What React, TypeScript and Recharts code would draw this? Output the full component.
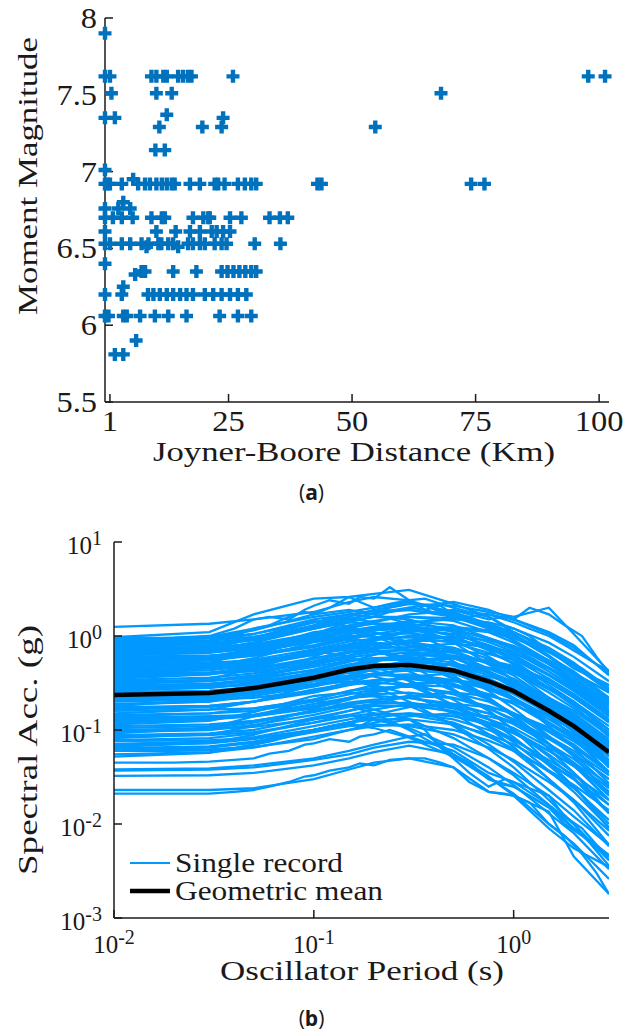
import { ScatterChart, Scatter, LineChart, Line, XAxis, YAxis } from 'recharts';

const SERIF = '"Liberation Serif", "Times New Roman", serif';
const INK = '#1a1a1a';
const MARKER_BLUE = '#0072bd';
const RECORD_BLUE = '#0099ff';

// (a) magnitude vs Joyner-Boore distance, read row by row
const magnitudeRows = [7.9, 7.62, 7.51, 7.37, 7.35, 7.29, 7.14, 7.01, 6.95, 6.92, 6.8, 6.76, 6.7, 6.61, 6.53, 6.51, 6.4, 6.35, 6.33, 6.25, 6.2, 6.06, 5.9, 5.81];
const distanceRows = [
  [0],
  [0, 1, 9.4, 10.4, 11.8, 12.5, 14.8, 15.8, 16.8, 17.5, 25.9, 97.8, 101.2],
  [1.3, 10.4, 13.5, 68],
  [12.5],
  [0, 2, 23.9],
  [11, 19.7, 23.6, 54.7],
  [10.2, 12.1],
  [0],
  [5.7],
  [0, 0.6, 1, 3.4, 6.7, 8.1, 9.1, 10.4, 11.5, 12.5, 13.5, 14.1, 17.2, 19.2, 22.2, 22.9, 24.2, 26.9, 28.3, 29.6, 30.6, 43, 43.8, 74.1, 76.8],
  [3.7],
  [0, 2.7, 5.1],
  [0, 1.6, 3.4, 5.6, 9.4, 11.5, 12.1, 17.8, 19.9, 20.9, 21.2, 25.3, 27.6, 33.3, 35.4, 37],
  [0, 10.4, 14.3, 17.2, 19.2, 21.6, 22.6, 23.9, 25.3],
  [0, 1, 3.4, 5.1, 7.4, 8.8, 10.8, 11.4, 12.8, 13.8, 16.8, 17.8, 19.2, 20.2, 22.2, 23.6, 24.6, 30.3, 35.5],
  [8.4, 14.8],
  [0],
  [7.4, 8.1, 13.8, 18.5, 23.6, 24.8, 26, 27.2, 28.4, 29.6, 30.6],
  [6.1],
  [3.7],
  [0, 3.4, 8.7, 9.8, 11.1, 12.5, 13.8, 15.2, 16.5, 17.8, 20.2, 21.9, 23.6, 25.3, 26.9, 28.6],
  [0, 0.7, 3.7, 4.4, 7.1, 10.1, 12.8, 16.5, 23.2, 26.9, 29.6],
  [6.3],
  [2, 3.7],
];
const distanceTicks = [1, 25, 50, 75, 100];
const magnitudeTicks = [5.5, 6, 6.5, 7, 7.5, 8];

// (b) response spectra, 5% damping
const periods = [0.01, 0.03, 0.05, 0.1, 0.15, 0.2, 0.3, 0.5, 0.75, 1, 1.5, 2, 3];
const records = [
  [1.25, 1.35, 1.5, 1.8, 2.3, 2.6, 2.4, 1.7, 1.3, 0.9, 0.55, 0.4, 0.25],
  [0.97, 1.1, 1.7, 2.5, 2.6, 2.8, 3.1, 2.2, 1.6, 1.1, 0.7, 0.45, 0.3],
  [0.92, 0.98, 1.2, 1.6, 1.8, 2.0, 2.3, 1.8, 1.35, 1.05, 0.62, 0.4, 0.2],
  [0.9, 0.95, 1.05, 1.4, 1.7, 1.85, 1.9, 1.65, 1.25, 1.0, 0.6, 0.42, 0.22],
  [0.88, 0.9, 0.98, 1.25, 1.5, 1.75, 2.0, 2.3, 1.9, 1.5, 1.1, 0.8, 0.38],
  [0.85, 0.95, 1.15, 1.7, 1.9, 1.7, 1.35, 0.85, 0.5, 0.34, 0.17, 0.1, 0.042],
  [0.82, 0.88, 1.05, 1.5, 1.7, 1.6, 1.5, 1.1, 0.75, 0.55, 0.3, 0.2, 0.09],
  [0.8, 0.85, 0.95, 1.3, 1.6, 1.9, 2.2, 2.1, 1.8, 1.6, 2.0, 1.05, 0.42],
  [0.78, 0.82, 0.92, 1.2, 1.45, 1.6, 1.6, 1.45, 1.1, 0.85, 0.52, 0.37, 0.19],
  [0.76, 0.8, 0.9, 1.2, 1.5, 1.75, 1.9, 1.6, 1.2, 0.9, 0.5, 0.33, 0.15],
  [0.74, 0.76, 0.8, 0.96, 1.2, 1.4, 1.7, 1.85, 1.7, 1.5, 1.05, 0.75, 0.4],
  [0.72, 0.75, 0.82, 1.05, 1.3, 1.45, 1.6, 1.55, 1.35, 1.1, 0.75, 0.52, 0.27],
  [0.7, 0.77, 0.95, 1.4, 1.55, 1.4, 1.1, 0.7, 0.42, 0.28, 0.14, 0.085, 0.035],
  [0.68, 0.72, 0.85, 1.2, 1.4, 1.35, 1.2, 0.9, 0.6, 0.42, 0.22, 0.13, 0.055],
  [0.66, 0.7, 0.78, 1.0, 1.25, 1.35, 1.35, 1.2, 0.92, 0.72, 0.45, 0.31, 0.16],
  [0.65, 0.68, 0.75, 0.95, 1.1, 1.25, 1.45, 1.3, 0.95, 0.75, 0.46, 0.3, 0.15],
  [0.63, 0.72, 0.95, 1.45, 1.25, 1.0, 0.7, 0.38, 0.22, 0.14, 0.063, 0.035, 0.013],
  [0.62, 0.66, 0.74, 0.95, 1.15, 1.25, 1.28, 1.12, 0.86, 0.68, 0.42, 0.29, 0.155],
  [0.6, 0.62, 0.65, 0.78, 0.96, 1.15, 1.4, 1.5, 1.4, 1.2, 0.85, 0.6, 0.33],
  [0.58, 0.61, 0.7, 0.92, 1.1, 1.2, 1.25, 1.0, 0.7, 0.5, 0.28, 0.18, 0.085],
  [0.57, 0.6, 0.68, 0.87, 1.05, 1.15, 1.2, 1.05, 0.8, 0.63, 0.39, 0.27, 0.14],
  [0.55, 0.57, 0.62, 0.76, 0.92, 1.05, 1.2, 1.15, 0.95, 0.78, 0.5, 0.35, 0.19],
  [0.54, 0.6, 0.73, 1.1, 1.2, 1.1, 0.86, 0.54, 0.32, 0.22, 0.11, 0.065, 0.027],
  [0.52, 0.55, 0.62, 0.8, 0.97, 1.05, 1.07, 0.95, 0.73, 0.57, 0.35, 0.24, 0.13],
  [0.51, 0.55, 0.65, 0.9, 1.0, 0.98, 0.85, 0.6, 0.4, 0.28, 0.15, 0.095, 0.04],
  [0.5, 0.52, 0.55, 0.65, 0.8, 0.95, 1.15, 1.25, 1.15, 1.0, 0.7, 0.5, 0.28],
  [0.48, 0.5, 0.53, 0.63, 0.78, 0.92, 1.1, 1.2, 1.1, 0.95, 0.67, 0.48, 0.26],
  [0.47, 0.5, 0.56, 0.72, 0.87, 0.94, 0.97, 0.85, 0.66, 0.52, 0.32, 0.22, 0.12],
  [0.46, 0.48, 0.53, 0.66, 0.8, 0.9, 1.0, 0.95, 0.75, 0.6, 0.38, 0.26, 0.14],
  [0.45, 0.52, 0.68, 1.05, 0.9, 0.72, 0.5, 0.27, 0.16, 0.1, 0.045, 0.025, 0.009],
  [0.44, 0.46, 0.5, 0.64, 0.72, 0.8, 0.85, 0.7, 0.5, 0.38, 0.21, 0.14, 0.065],
  [0.43, 0.47, 0.58, 0.86, 0.95, 0.86, 0.69, 0.43, 0.26, 0.17, 0.086, 0.052, 0.021],
  [0.42, 0.45, 0.52, 0.7, 0.82, 0.85, 0.8, 0.6, 0.42, 0.3, 0.16, 0.1, 0.045],
  [0.41, 0.43, 0.49, 0.63, 0.76, 0.82, 0.85, 0.75, 0.57, 0.45, 0.28, 0.19, 0.1],
  [0.4, 0.41, 0.44, 0.54, 0.66, 0.76, 0.88, 0.9, 0.78, 0.66, 0.45, 0.32, 0.17],
  [0.39, 0.4, 0.42, 0.51, 0.62, 0.74, 0.9, 0.98, 0.9, 0.78, 0.55, 0.39, 0.21],
  [0.38, 0.4, 0.45, 0.58, 0.67, 0.7, 0.7, 0.58, 0.42, 0.32, 0.19, 0.13, 0.06],
  [0.37, 0.39, 0.44, 0.57, 0.69, 0.74, 0.76, 0.67, 0.52, 0.41, 0.25, 0.17, 0.093],
  [0.36, 0.4, 0.48, 0.72, 0.8, 0.72, 0.58, 0.36, 0.22, 0.145, 0.072, 0.043, 0.018],
  [0.35, 0.39, 0.47, 0.7, 0.77, 0.7, 0.56, 0.35, 0.21, 0.14, 0.07, 0.042, 0.018],
  [0.34, 0.36, 0.4, 0.52, 0.62, 0.68, 0.72, 0.66, 0.52, 0.42, 0.27, 0.19, 0.1],
  [0.33, 0.34, 0.36, 0.43, 0.53, 0.63, 0.76, 0.83, 0.76, 0.66, 0.46, 0.33, 0.18],
  [0.32, 0.34, 0.38, 0.49, 0.59, 0.64, 0.66, 0.58, 0.45, 0.35, 0.22, 0.15, 0.08],
  [0.31, 0.33, 0.37, 0.47, 0.55, 0.58, 0.58, 0.48, 0.35, 0.26, 0.15, 0.1, 0.048],
  [0.3, 0.35, 0.45, 0.69, 0.6, 0.48, 0.33, 0.18, 0.105, 0.066, 0.03, 0.017, 0.006],
  [0.3, 0.31, 0.33, 0.4, 0.48, 0.55, 0.62, 0.62, 0.52, 0.43, 0.28, 0.2, 0.1],
  [0.29, 0.3, 0.34, 0.44, 0.54, 0.58, 0.6, 0.52, 0.4, 0.32, 0.2, 0.14, 0.072],
  [0.28, 0.29, 0.3, 0.36, 0.45, 0.53, 0.64, 0.7, 0.64, 0.56, 0.39, 0.28, 0.15],
  [0.27, 0.28, 0.32, 0.41, 0.5, 0.55, 0.56, 0.49, 0.38, 0.3, 0.18, 0.125, 0.068],
  [0.265, 0.28, 0.31, 0.4, 0.47, 0.5, 0.49, 0.4, 0.29, 0.22, 0.12, 0.08, 0.036],
  [0.26, 0.29, 0.35, 0.52, 0.57, 0.52, 0.42, 0.26, 0.16, 0.1, 0.052, 0.031, 0.013],
  [0.255, 0.26, 0.28, 0.34, 0.41, 0.47, 0.52, 0.5, 0.41, 0.33, 0.21, 0.15, 0.075],
  [0.25, 0.26, 0.29, 0.38, 0.46, 0.5, 0.51, 0.45, 0.35, 0.27, 0.17, 0.12, 0.062],
  [0.24, 0.25, 0.26, 0.31, 0.38, 0.46, 0.55, 0.6, 0.55, 0.48, 0.34, 0.24, 0.13],
  [0.23, 0.24, 0.25, 0.3, 0.37, 0.44, 0.53, 0.58, 0.53, 0.46, 0.32, 0.23, 0.125],
  [0.22, 0.23, 0.26, 0.34, 0.41, 0.44, 0.45, 0.4, 0.31, 0.24, 0.15, 0.1, 0.055],
  [0.215, 0.22, 0.24, 0.3, 0.36, 0.4, 0.43, 0.4, 0.32, 0.26, 0.165, 0.115, 0.06],
  [0.21, 0.23, 0.28, 0.42, 0.46, 0.42, 0.34, 0.21, 0.13, 0.084, 0.042, 0.025, 0.01],
  [0.205, 0.22, 0.25, 0.33, 0.38, 0.39, 0.37, 0.3, 0.21, 0.15, 0.085, 0.055, 0.025],
  [0.2, 0.21, 0.22, 0.26, 0.32, 0.38, 0.46, 0.5, 0.46, 0.4, 0.28, 0.2, 0.11],
  [0.19, 0.2, 0.23, 0.29, 0.35, 0.38, 0.39, 0.34, 0.27, 0.21, 0.13, 0.09, 0.048],
  [0.185, 0.2, 0.25, 0.37, 0.41, 0.37, 0.3, 0.185, 0.11, 0.074, 0.037, 0.022, 0.0092],
  [0.18, 0.21, 0.27, 0.41, 0.36, 0.29, 0.2, 0.11, 0.063, 0.04, 0.018, 0.01, 0.0036],
  [0.175, 0.18, 0.2, 0.25, 0.3, 0.33, 0.36, 0.34, 0.28, 0.22, 0.14, 0.1, 0.052],
  [0.17, 0.18, 0.2, 0.26, 0.32, 0.34, 0.35, 0.31, 0.24, 0.19, 0.115, 0.08, 0.043],
  [0.165, 0.175, 0.2, 0.27, 0.31, 0.32, 0.3, 0.24, 0.17, 0.125, 0.07, 0.045, 0.02],
  [0.16, 0.165, 0.17, 0.21, 0.26, 0.3, 0.37, 0.4, 0.37, 0.32, 0.22, 0.16, 0.088],
  [0.15, 0.165, 0.2, 0.3, 0.33, 0.3, 0.24, 0.15, 0.09, 0.06, 0.03, 0.018, 0.0075],
  [0.145, 0.15, 0.16, 0.2, 0.24, 0.27, 0.3, 0.29, 0.24, 0.19, 0.12, 0.085, 0.045],
  [0.14, 0.15, 0.17, 0.21, 0.26, 0.28, 0.29, 0.25, 0.2, 0.15, 0.095, 0.066, 0.035],
  [0.135, 0.14, 0.145, 0.175, 0.22, 0.26, 0.31, 0.34, 0.31, 0.27, 0.19, 0.135, 0.075],
  [0.13, 0.135, 0.14, 0.17, 0.21, 0.25, 0.3, 0.33, 0.3, 0.26, 0.18, 0.13, 0.072],
  [0.125, 0.13, 0.145, 0.19, 0.22, 0.23, 0.22, 0.18, 0.13, 0.095, 0.055, 0.035, 0.016],
  [0.12, 0.13, 0.14, 0.18, 0.22, 0.24, 0.25, 0.22, 0.17, 0.13, 0.082, 0.056, 0.03],
  [0.115, 0.125, 0.155, 0.23, 0.25, 0.23, 0.18, 0.115, 0.07, 0.046, 0.023, 0.014, 0.0058],
  [0.11, 0.115, 0.125, 0.155, 0.185, 0.205, 0.23, 0.22, 0.18, 0.15, 0.1, 0.07, 0.036],
  [0.105, 0.11, 0.125, 0.16, 0.195, 0.21, 0.22, 0.19, 0.15, 0.115, 0.071, 0.049, 0.026],
  [0.1, 0.103, 0.108, 0.13, 0.16, 0.19, 0.23, 0.25, 0.23, 0.2, 0.14, 0.1, 0.055],
  [0.098, 0.105, 0.12, 0.16, 0.19, 0.2, 0.19, 0.155, 0.11, 0.08, 0.045, 0.03, 0.013],
  [0.095, 0.1, 0.113, 0.145, 0.175, 0.19, 0.195, 0.17, 0.13, 0.105, 0.065, 0.045, 0.024],
  [0.092, 0.105, 0.14, 0.21, 0.18, 0.15, 0.1, 0.055, 0.032, 0.02, 0.009, 0.0055, 0.0035],
  [0.088, 0.092, 0.1, 0.135, 0.16, 0.18, 0.18, 0.16, 0.12, 0.097, 0.06, 0.041, 0.022],
  [0.085, 0.088, 0.095, 0.12, 0.145, 0.165, 0.19, 0.18, 0.15, 0.12, 0.08, 0.056, 0.03],
  [0.082, 0.09, 0.11, 0.165, 0.18, 0.165, 0.13, 0.082, 0.05, 0.033, 0.016, 0.01, 0.0041],
  [0.078, 0.082, 0.092, 0.12, 0.14, 0.15, 0.145, 0.12, 0.085, 0.063, 0.036, 0.024, 0.011],
  [0.076, 0.078, 0.082, 0.1, 0.12, 0.145, 0.175, 0.19, 0.175, 0.15, 0.106, 0.076, 0.042],
  [0.071, 0.075, 0.084, 0.11, 0.13, 0.145, 0.15, 0.13, 0.1, 0.078, 0.048, 0.033, 0.018],
  [0.069, 0.072, 0.08, 0.1, 0.12, 0.135, 0.15, 0.14, 0.115, 0.092, 0.06, 0.042, 0.022],
  [0.066, 0.073, 0.089, 0.13, 0.145, 0.13, 0.105, 0.066, 0.04, 0.026, 0.013, 0.008, 0.0033],
  [0.064, 0.067, 0.075, 0.1, 0.12, 0.13, 0.13, 0.115, 0.09, 0.07, 0.044, 0.03, 0.016],
  [0.062, 0.065, 0.073, 0.095, 0.11, 0.115, 0.11, 0.09, 0.065, 0.048, 0.028, 0.018, 0.0085],
  [0.06, 0.062, 0.066, 0.08, 0.1, 0.12, 0.14, 0.15, 0.14, 0.12, 0.085, 0.06, 0.033],
  [0.055, 0.058, 0.065, 0.085, 0.1, 0.11, 0.115, 0.1, 0.077, 0.06, 0.037, 0.026, 0.014],
  [0.052, 0.057, 0.07, 0.1, 0.115, 0.105, 0.083, 0.052, 0.031, 0.021, 0.01, 0.0062, 0.0026],
  [0.038, 0.039, 0.042, 0.05, 0.06, 0.07, 0.085, 0.06, 0.035, 0.028, 0.016, 0.009, 0.0045],
  [0.037, 0.038, 0.04, 0.048, 0.055, 0.065, 0.075, 0.07, 0.05, 0.035, 0.02, 0.012, 0.006],
  [0.0325, 0.033, 0.035, 0.042, 0.05, 0.058, 0.068, 0.055, 0.03, 0.025, 0.015, 0.009, 0.0047],
  [0.023, 0.023, 0.024, 0.03, 0.038, 0.045, 0.05, 0.04, 0.022, 0.02, 0.0135, 0.0045, 0.0018],
];
// a few records on a finer period grid, where the jagged envelope is most visible
const finePeriods = [0.01, 0.02, 0.03, 0.04, 0.05, 0.06, 0.075, 0.09, 0.1, 0.12, 0.15, 0.17, 0.2, 0.24, 0.3, 0.36, 0.43, 0.5, 0.6, 0.75, 0.9, 1, 1.2, 1.5, 1.8, 2.2, 2.6, 3];
const fineRecords = [
  [0.95, 0.96, 1.0, 1.2, 1.5, 1.6, 1.5, 1.9, 2.1, 2.4, 2.2, 2.6, 2.5, 3.3, 2.4, 2.5, 2.2, 2.0, 1.8, 1.6, 1.3, 1.2, 1.0, 0.7, 0.55, 0.45, 0.35, 0.3],
  [0.7, 0.71, 0.72, 0.78, 0.85, 0.95, 1.1, 1.2, 1.3, 1.5, 1.6, 1.8, 1.7, 2.0, 2.2, 2.1, 1.8, 1.9, 1.7, 1.5, 1.6, 1.5, 2.0, 1.7, 1.3, 1.0, 0.6, 0.4],
  [0.85, 0.86, 0.9, 1.0, 1.2, 1.3, 1.6, 1.8, 1.7, 2.0, 2.6, 2.3, 2.0, 2.2, 2.4, 1.9, 1.7, 1.8, 1.5, 1.3, 1.1, 1.0, 0.8, 0.6, 0.45, 0.36, 0.3, 0.25],
  [0.55, 0.56, 0.58, 0.62, 0.7, 0.78, 0.9, 1.0, 1.05, 1.2, 1.4, 1.5, 1.6, 1.8, 2.0, 1.9, 2.1, 1.7, 1.6, 1.7, 1.5, 1.4, 1.2, 1.0, 0.8, 0.62, 0.5, 0.43],
  [0.3, 0.3, 0.31, 0.33, 0.37, 0.42, 0.5, 0.55, 0.6, 0.7, 0.75, 0.8, 0.7, 0.85, 0.9, 0.8, 0.7, 0.72, 0.55, 0.45, 0.4, 0.33, 0.25, 0.18, 0.12, 0.08, 0.055, 0.04],
  [0.06, 0.06, 0.061, 0.064, 0.07, 0.075, 0.085, 0.095, 0.1, 0.11, 0.12, 0.11, 0.13, 0.12, 0.13, 0.1, 0.065, 0.05, 0.035, 0.025, 0.03, 0.028, 0.024, 0.02, 0.012, 0.009, 0.006, 0.0045],
  [0.045, 0.045, 0.046, 0.048, 0.05, 0.056, 0.06, 0.07, 0.072, 0.08, 0.075, 0.085, 0.09, 0.1, 0.085, 0.09, 0.07, 0.055, 0.045, 0.03, 0.026, 0.025, 0.02, 0.015, 0.01, 0.0075, 0.0055, 0.0042],
  [0.021, 0.021, 0.021, 0.022, 0.023, 0.025, 0.028, 0.032, 0.033, 0.037, 0.04, 0.044, 0.042, 0.048, 0.05, 0.05, 0.045, 0.04, 0.028, 0.022, 0.021, 0.02, 0.017, 0.01, 0.0075, 0.0048, 0.003, 0.0018],
];
const geometricMean = [0.236, 0.248, 0.28, 0.36, 0.44, 0.48, 0.49, 0.43, 0.33, 0.26, 0.16, 0.11, 0.058];
const periodTicks = [0.01, 0.1, 1];
const accelTicks = [0.001, 0.01, 0.1, 1, 10];

const points = magnitudeRows.flatMap((mw, i) => distanceRows[i].map((rjb) => ({ rjb, mw })));
const recordSeries = [
  ...records.map((r) => periods.map((t, j) => ({ t, sa: r[j] }))),
  ...fineRecords.map((r) => finePeriods.map((t, j) => ({ t, sa: r[j] }))),
];
const meanSeries = periods.map((t, j) => ({ t, sa: geometricMean[j] }));

const PlusMarker = (props: any) => {
  const { cx, cy } = props;
  if (cx == null || cy == null) return null;
  const a = 6.5, w = 2.2;
  return (
    <path
      d={`M${cx - a},${cy - w}H${cx + a}V${cy + w}H${cx - a}Z M${cx - w},${cy - a}H${cx + w}V${cy + a}H${cx - w}Z`}
      fill={MARKER_BLUE}
    />
  );
};

// plain numeric ticks, slightly widened like the Computer Modern original
const NumberTick = (props: any) => {
  const { x, y, payload, side } = props;
  const anchor = side === 'x' ? 'middle' : 'end';
  const dy = side === 'x' ? 22 : 10;
  return (
    <g transform={`translate(${x},${y}) scale(1.12,1)`}>
      <text x={0} y={dy} textAnchor={anchor} fill={INK} fontSize={29} fontFamily={SERIF}>
        {payload.value}
      </text>
    </g>
  );
};

const PowerTick = (props: any) => {
  const { x, y, payload, side } = props;
  const e = Math.round(Math.log10(payload.value));
  const isX = side === 'x';
  return (
    <text x={x} y={y + (isX ? 35 : 12)} textAnchor={isX ? 'middle' : 'end'} fill={INK} fontSize={25} fontFamily={SERIF}>
      10<tspan dy={-9} fontSize={20}>{e}</tspan>
    </text>
  );
};

const title = (x: number, y: number, len: number, text: string, vertical = false) => () => (
  <text
    x={x}
    y={y}
    transform={vertical ? `rotate(-90 ${x} ${y})` : undefined}
    textAnchor="middle"
    textLength={len}
    lengthAdjust="spacingAndGlyphs"
    fill={INK}
    fontSize={27}
    fontFamily={SERIF}
  >
    {text}
  </text>
);

const axisProps = { stroke: INK, strokeWidth: 1.5, interval: 0 as const };

function MagnitudeDistance() {
  return (
    <ScatterChart width={623} height={480} margin={{ top: 18, right: 14, bottom: 48, left: 45 }}>
      <XAxis
        {...axisProps}
        xAxisId="b"
        type="number"
        dataKey="rjb"
        domain={[0, 102]}
        ticks={distanceTicks}
        height={30}
        tickSize={-8}
        tickMargin={15}
        tick={<NumberTick side="x" />}
        label={{ content: title(354, 461, 402, 'Joyner-Boore Distance (Km)') }}
      />
      <XAxis {...axisProps} xAxisId="t" orientation="top" type="number" domain={[0, 102]} ticks={distanceTicks} height={0} mirror tick={false} tickSize={8} />
      <YAxis
        {...axisProps}
        yAxisId="l"
        type="number"
        dataKey="mw"
        domain={[5.5, 8]}
        ticks={magnitudeTicks}
        width={60}
        tickSize={-8}
        tickMargin={16}
        tick={<NumberTick side="y" />}
        label={{ content: title(37, 176, 278, 'Moment Magnitude', true) }}
      />
      <YAxis {...axisProps} yAxisId="r" orientation="right" type="number" domain={[5.5, 8]} ticks={magnitudeTicks} width={0} mirror tick={false} tickSize={8} />
      <Scatter xAxisId="b" yAxisId="l" data={points} shape={<PlusMarker />} isAnimationActive={false} />
    </ScatterChart>
  );
}

function SpectraChart() {
  return (
    <div style={{ position: 'relative', width: 623, height: 490 }}>
      <LineChart width={623} height={490} margin={{ top: 22, right: 14, bottom: 62, left: 54 }}>
        <XAxis
          {...axisProps}
          allowDataOverflow
          xAxisId="b"
          type="number"
          dataKey="t"
          scale="log"
          domain={[0.01, 3]}
          ticks={periodTicks}
          height={30}
          tickSize={-8}
          tickMargin={8}
          tick={<PowerTick side="x" />}
          label={{ content: title(362, 460, 284, 'Oscillator Period (s)') }}
        />
        <XAxis {...axisProps} allowDataOverflow xAxisId="t" orientation="top" type="number" scale="log" domain={[0.01, 3]} ticks={periodTicks} height={0} mirror tick={false} tickSize={8} />
        <YAxis
          {...axisProps}
          allowDataOverflow
          yAxisId="l"
          type="number"
          scale="log"
          domain={[0.001, 10]}
          ticks={accelTicks}
          width={60}
          tickSize={-8}
          tickMargin={20}
          tick={<PowerTick side="y" />}
          label={{ content: title(37, 230, 250, 'Spectral Acc. (g)', true) }}
        />
        <YAxis {...axisProps} allowDataOverflow yAxisId="r" orientation="right" type="number" scale="log" domain={[0.001, 10]} ticks={accelTicks} width={0} mirror tick={false} tickSize={8} />
        {recordSeries.map((s, i) => (
          <Line
            key={i}
            xAxisId="b"
            yAxisId="l"
            data={s}
            dataKey="sa"
            stroke={RECORD_BLUE}
            strokeWidth={2.3}
            dot={false}
            isAnimationActive={false}
          />
        ))}
        <Line xAxisId="b" yAxisId="l" data={meanSeries} dataKey="sa" stroke="#000" strokeWidth={4.5} dot={false} isAnimationActive={false} />
      </LineChart>
      <svg width={623} height={490} style={{ position: 'absolute', left: 0, top: 0, pointerEvents: 'none' }}>
        <line x1={130} x2={170} y1={343} y2={343} stroke={RECORD_BLUE} strokeWidth={2} />
        <text x={175} y={352} textLength={168} lengthAdjust="spacingAndGlyphs" fill={INK} fontSize={27} fontFamily={SERIF}>
          Single record
        </text>
        <line x1={130} x2={170} y1={371} y2={371} stroke="#000" strokeWidth={4.5} />
        <text x={175} y={380} textLength={208} lengthAdjust="spacingAndGlyphs" fill={INK} fontSize={27} fontFamily={SERIF}>
          Geometric mean
        </text>
      </svg>
    </div>
  );
}

const caption = { position: 'absolute' as const, width: 623, textAlign: 'center' as const, fontFamily: '"Open Sans", "DejaVu Sans", sans-serif', fontSize: 21, color: INK };

export default function App() {
  return (
    <div style={{ position: 'absolute', left: 0, top: 0, width: 623, height: 1035, background: '#fff' }}>
      <div style={{ position: 'absolute', left: 0, top: 0 }}>
        <MagnitudeDistance />
      </div>
      <div style={{ ...caption, top: 478 }}>
        (<b>a</b>)
      </div>
      <div style={{ position: 'absolute', left: 0, top: 520 }}>
        <SpectraChart />
      </div>
      <div style={{ ...caption, top: 1004 }}>
        (<b>b</b>)
      </div>
    </div>
  );
}
